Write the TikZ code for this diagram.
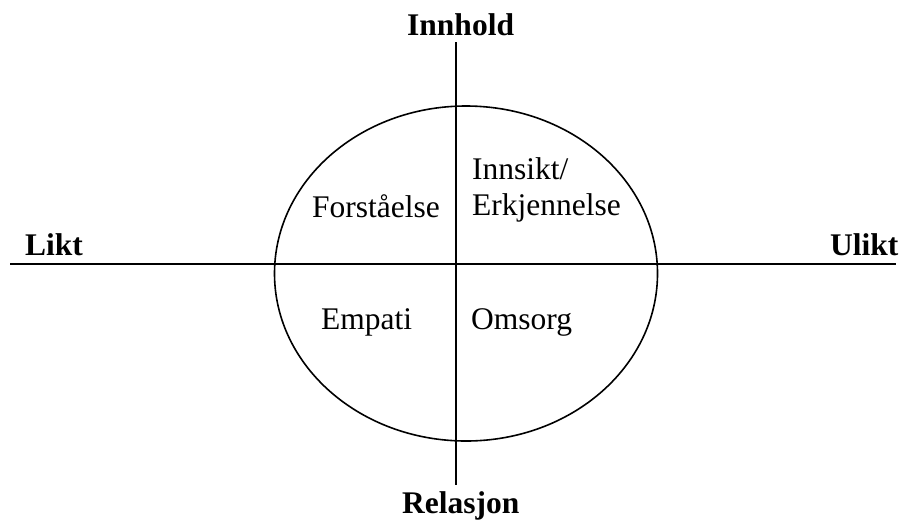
\documentclass[tikz,border=0pt]{standalone}
\usepackage{fontspec}
\setmainfont{Liberation Serif}
\begin{document}
\begin{tikzpicture}[x=1pt,y=-1pt,
  axis/.style={line width=2pt},
  oval/.style={line width=1.6pt},
  lbl/.style={inner sep=0pt,anchor=base west,font=\fontsize{31.5}{36}\selectfont},
  blbl/.style={inner sep=0pt,anchor=base west,font=\fontsize{31.5}{36}\selectfont\bfseries}]
\useasboundingbox (0,0) rectangle (904,523);
\coordinate (top) at (456,42);
\coordinate (bot) at (456,485);
\coordinate (lft) at (10,264);
\coordinate (rgt) at (896,264);
\draw[axis] (top) -- (bot);
\draw[axis] (lft) -- (rgt);
\draw[oval] (466,273.5) ellipse [x radius=191.5, y radius=167.5];
\node[blbl] (innhold) at (407,35) {Innhold};
\node[blbl] (relasjon) at (402,513) {Relasjon};
\node[blbl] (likt) at (25,255) {Likt};
\node[blbl] (ulikt) at (830,255) {Ulikt};
\node[lbl] (forst) at (312,217) {Forståelse};
\node[lbl] (innsikt) at (472,179) {Innsikt/};
\node[lbl] (erkj) at (472,215) {Erkjennelse};
\node[lbl] (empati) at (321,329) {Empati};
\node[lbl] (omsorg) at (471,329) {Omsorg};
\end{tikzpicture}
\end{document}
